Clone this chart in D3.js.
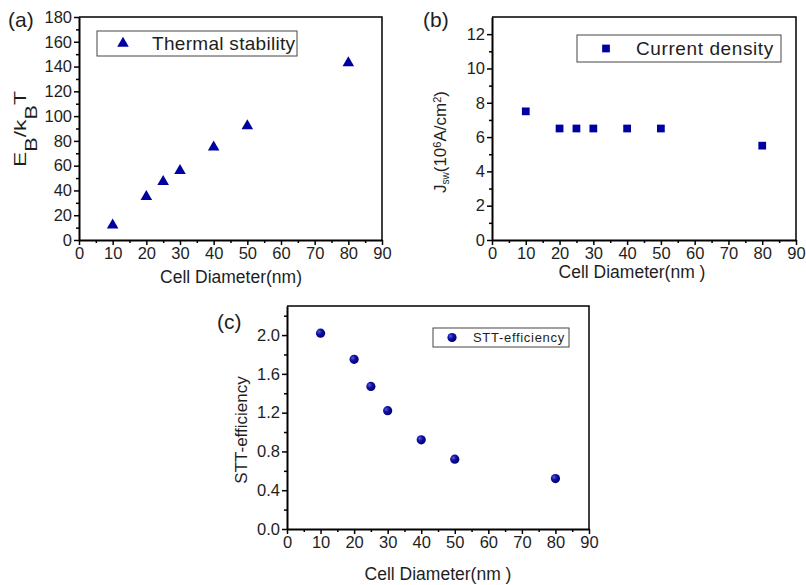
<!DOCTYPE html>
<meta charset="utf-8">
<style>
body { margin: 0; background: #fff; }
text { font-family: "Liberation Sans", Arial, sans-serif; fill: #1e1e1e; }
.axis path, .axis line { stroke: #000; }
.axis path { stroke-width: 2px; }
.axis line { stroke-width: 1.5px; }
.axis text { font-size: 16.5px; fill: #1e1e1e; }
.frame { fill: none; stroke: #000; stroke-width: 1.5px; }
.legend-box { fill: #fff; stroke: #444; stroke-width: 1px; }
</style>
<svg width="806" height="585"></svg>
<script src="https://d3js.org/d3.v7.min.js"></script>
<script>

var diameters = [10, 20, 25, 30, 40, 50, 80];
var thermalStability = [12, 35, 47, 56, 75, 92, 143];
var currentDensity = [7.5, 6.5, 6.5, 6.5, 6.5, 6.5, 5.5];
var sttEfficiency = [2.02, 1.75, 1.47, 1.22, 0.92, 0.72, 0.52];

var xTicks = d3.range(0, 91, 10),
    xMinor = d3.range(5, 90, 10);

var svg = d3.select("svg");

var defs = svg.append("defs");
var grad = defs.append("radialGradient")
    .attr("id", "ball")
    .attr("cx", "35%").attr("cy", "35%").attr("r", "65%");
grad.append("stop").attr("offset", "0%").attr("stop-color", "#5a5ad8");
grad.append("stop").attr("offset", "45%").attr("stop-color", "#1010a8");
grad.append("stop").attr("offset", "100%").attr("stop-color", "#000070");

var markerColor = "#0000a0";

function panel(p) {
  var x = d3.scaleLinear().domain([0, 90]).range([p.left, p.right]),
      y = d3.scaleLinear().domain(p.yDomain).range([p.bottom, p.top]);

  var g = svg.append("g");

  // frame (top and right)
  g.append("path")
      .attr("class", "frame")
      .attr("d", "M" + p.left + "," + p.top + "H" + p.right + "V" + p.bottom);

  g.append("g")
      .attr("class", "axis")
      .attr("transform", "translate(0," + p.bottom + ")")
      .call(d3.axisBottom(x).tickValues(xMinor).tickSize(3).tickFormat(""))
      .call(function(s) { s.select(".domain").remove(); });

  g.append("g")
      .attr("class", "axis")
      .attr("transform", "translate(0," + p.bottom + ")")
      .call(d3.axisBottom(x).tickValues(xTicks).tickSize(5).tickSizeOuter(0).tickPadding(2));

  g.append("g")
      .attr("class", "axis")
      .attr("transform", "translate(" + p.left + ",0)")
      .call(d3.axisLeft(y).tickValues(p.yMinor).tickSize(3).tickFormat(""))
      .call(function(s) { s.select(".domain").remove(); });

  g.append("g")
      .attr("class", "axis")
      .attr("transform", "translate(" + p.left + ",0)")
      .call(d3.axisLeft(y).tickValues(p.yTicks).tickSize(5).tickSizeOuter(0).tickPadding(2).tickFormat(p.yFormat));

  // points
  var pts = g.append("g").selectAll(".pt")
    .data(diameters.map(function(d, i) { return {x: d, y: p.values[i]}; }))
    .enter();
  drawMarker(pts, p.marker, function(d) { return x(d.x); }, function(d) { return y(d.y); });

  // legend
  g.append("rect")
      .attr("class", "legend-box")
      .attr("x", p.legend.x).attr("y", p.legend.y)
      .attr("width", p.legend.w).attr("height", p.legend.h);
  drawMarker(g.append("g").selectAll(".lm").data([0]).enter(), p.marker,
      function() { return p.legend.mx; }, function() { return p.legend.y + p.legend.h / 2; });
  g.append("text")
      .attr("x", p.legend.tx)
      .attr("y", p.legend.y + p.legend.h / 2)
      .attr("dy", "0.36em")
      .style("font-size", p.legend.fs + "px")
      .style("letter-spacing", p.legend.ls + "px")
      .text(p.legend.label);

  // panel letter
  g.append("text")
      .attr("x", p.tag[0]).attr("y", p.tag[1])
      .style("font-size", "21px")
      .text(p.tagText);

  // x label
  g.append("text")
      .attr("x", p.xlab[0]).attr("y", p.xlab[1])
      .attr("text-anchor", "middle")
      .style("font-size", "17.5px")
      .text(p.xlabText);

  return g;
}

function drawMarker(sel, type, fx, fy) {
  if (type === "circle") {
    sel.append("circle")
        .attr("cx", fx).attr("cy", fy)
        .attr("r", 4.6)
        .attr("fill", "url(#ball)");
  } else {
    var sym = d3.symbol()
        .type(type === "triangle" ? d3.symbolTriangle : d3.symbolSquare)
        .size(type === "triangle" ? 58 : 60);
    sel.append("path")
        .attr("d", sym)
        .attr("transform", function(d) { return "translate(" + fx(d) + "," + fy(d) + ")"; })
        .attr("fill", markerColor);
  }
}

// (a)
var a = panel({
  left: 79, right: 382, top: 17, bottom: 240,
  yDomain: [0, 180], yTicks: d3.range(0, 181, 20), yMinor: d3.range(10, 180, 20),
  yFormat: d3.format("d"),
  values: thermalStability, marker: "triangle",
  legend: {x: 97, y: 31, w: 200, h: 25, mx: 123, tx: 152, fs: 19, ls: 0.3, label: "Thermal stability"},
  tag: [8, 27], tagText: "(a)",
  xlab: [231, 283], xlabText: "Cell Diameter(nm)"
});
var ya = a.append("text")
    .attr("transform", "translate(26,129) rotate(-90) scale(1.35,1)")
    .attr("text-anchor", "middle")
    .style("font-size", "17px");
ya.append("tspan").text("E");
ya.append("tspan").attr("baseline-shift", "-11px").style("font-size", "16px").text("B");
ya.append("tspan").text("/k");
ya.append("tspan").attr("baseline-shift", "-11px").style("font-size", "16px").text("B");
ya.append("tspan").text("T");

// (b)
var b = panel({
  left: 492, right: 796, top: 17, bottom: 240,
  yDomain: [0, 13], yTicks: d3.range(0, 13, 2), yMinor: d3.range(1, 13, 2),
  yFormat: d3.format("d"),
  values: currentDensity, marker: "square",
  legend: {x: 577, y: 35, w: 204, h: 27, mx: 606, tx: 636, fs: 19, ls: 0.6, label: "Current density"},
  tag: [423, 27], tagText: "(b)",
  xlab: [632, 278], xlabText: "Cell Diameter(nm )"
});
var yb = b.append("text")
    .attr("transform", "translate(446,142) rotate(-90)")
    .attr("text-anchor", "middle")
    .style("font-size", "17px");
yb.append("tspan").text("J");
yb.append("tspan").attr("baseline-shift", "-30%").style("font-size", "10px").text("sw");
yb.append("tspan").text("(10");
yb.append("tspan").attr("baseline-shift", "45%").style("font-size", "11px").text("6");
yb.append("tspan").text("A/cm");
yb.append("tspan").attr("baseline-shift", "45%").style("font-size", "11px").text("2");
yb.append("tspan").text(")");

// (c)
var c = panel({
  left: 287, right: 589, top: 306, bottom: 529,
  yDomain: [0, 2.3], yTicks: d3.range(0, 2.01, 0.4), yMinor: d3.range(0.2, 2.3, 0.4),
  yFormat: d3.format(".1f"),
  values: sttEfficiency, marker: "circle",
  legend: {x: 433, y: 328, w: 136, h: 19, mx: 452, tx: 473, fs: 13, ls: 0.7, label: "STT-efficiency"},
  tag: [217, 329], tagText: "(c)",
  xlab: [438, 580], xlabText: "Cell Diameter(nm )"
});
c.append("text")
    .attr("transform", "translate(247,430) rotate(-90)")
    .attr("text-anchor", "middle")
    .style("font-size", "17px")
    .text("STT-efficiency");

</script>
